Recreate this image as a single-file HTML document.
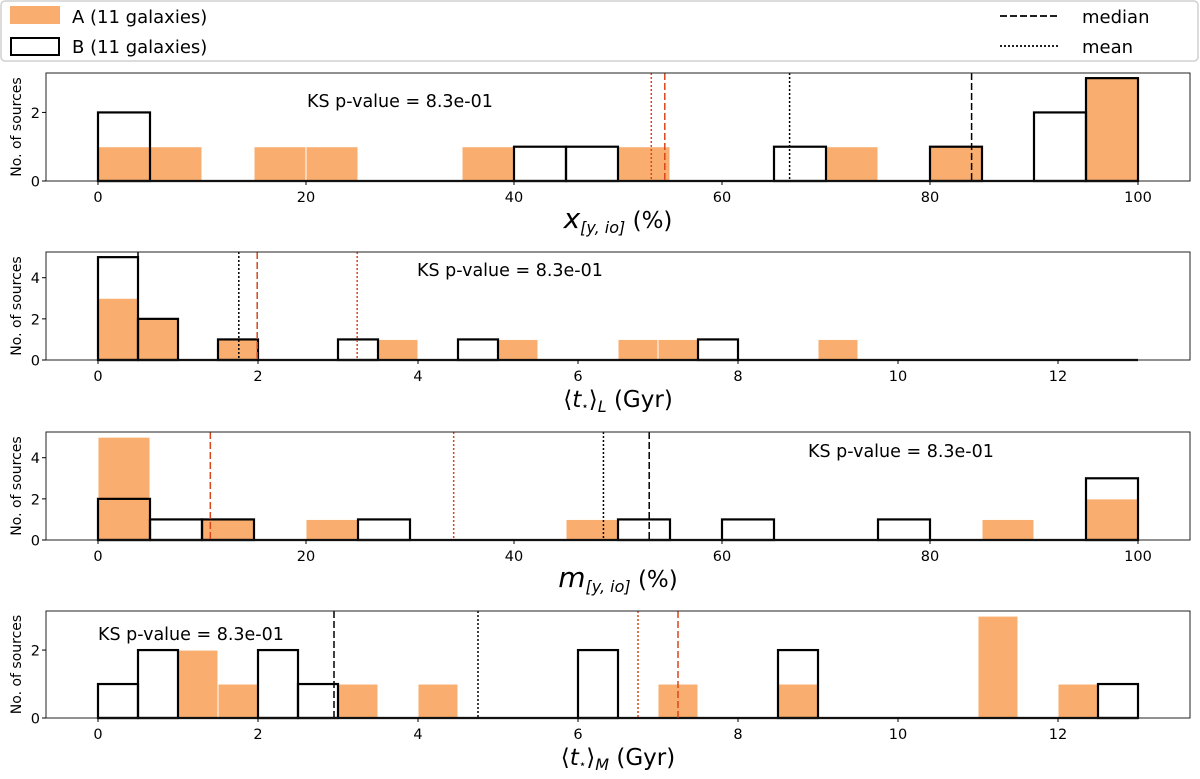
<!DOCTYPE html>
<html><head><meta charset="utf-8">
<style>
body{margin:0;background:#fff;width:1200px;height:774px;overflow:hidden;font-family:"Liberation Sans","DejaVu Sans",sans-serif;}
svg text{font-family:"DejaVu Sans","Liberation Sans",sans-serif;}
</style></head>
<body>
<svg id="fig" width="1200" height="774" viewBox="0 0 1200 774" xmlns="http://www.w3.org/2000/svg">
<g>
<rect x="1" y="1" width="1197" height="60" rx="4" fill="#fff" stroke="#d0d0d0" stroke-width="1.5"/>
<rect x="10" y="6" width="50" height="18" fill="#f9ae6f"/>
<text x="72" y="23" font-size="18">A (11 galaxies)</text>
<rect x="11" y="38" width="48" height="17" fill="none" stroke="#000" stroke-width="2"/>
<text x="72" y="53" font-size="18">B (11 galaxies)</text>
<line x1="1000" y1="16" x2="1058" y2="16" stroke="#000" stroke-width="1.8" stroke-dasharray="7,3"/>
<text x="1082" y="23" font-size="18">median</text>
<line x1="1000" y1="46" x2="1058" y2="46" stroke="#000" stroke-width="1.8" stroke-dasharray="2,2"/>
<text x="1082" y="53" font-size="18">mean</text>
</g>
</svg>
<script>
// Panel 1: x_[y,io] (%)
const p1BinW = 5;
const p1A = [1,1,0,1,1,0,0,1,0,0,1,0,0,0,1,0,1,0,0,3];
const p1B = [2,0,0,0,0,0,0,0,1,1,0,0,0,1,0,0,1,0,2,3];
const p1Lines = [53.2, 54.5, 66.5, 84.0];
const p1Ticks = [0,20,40,60,80,100];
const p1YTicks = [0,2];
// Panel 2: <t*>_L (Gyr)
const p2BinW = 0.5;
const p2A = [3,2,0,1,0,0,0,1,0,0,1,0,0,1,1,0,0,0,1,0,0,0,0,0,0,0];
const p2B = [5,2,0,1,0,0,1,0,0,1,0,0,0,0,0,1,0,0,0,0,0,0,0,0,0,0];
const p2Lines = [0.5, 1.76, 1.99, 3.24];
const p2Ticks = [0,2,4,6,8,10,12];
const p2YTicks = [0,2,4];
// Panel 3: m_[y,io] (%)
const p3A = [5,0,1,0,1,0,0,0,0,1,0,0,0,0,0,0,0,1,0,2];
const p3B = [2,1,1,0,0,1,0,0,0,0,1,0,1,0,0,1,0,0,0,3];
const p3Lines = [10.8, 34.2, 48.6, 53.0];
const p3YTicks = [0,2,4];
// Panel 4: <t*>_M (Gyr)
const p4A = [0,0,2,1,0,0,1,0,1,0,0,0,0,0,1,0,0,1,0,0,0,0,3,0,1,0];
const p4B = [1,2,0,0,2,1,0,0,0,0,0,0,2,0,0,0,0,2,0,0,0,0,0,0,0,1];
const p4Lines = [2.95, 4.75, 6.75, 7.25];
const p4YTicks = [0,2];
const lineStyles = [['#000','7,3'],['#000','2,2'],['#d8461b','7,3'],['#d8461b','2,2']];

const NS='http://www.w3.org/2000/svg';
const svg=document.getElementById('fig');
function mk(tag,attrs,parent){const e=document.createElementNS(NS,tag);for(const k in attrs)e.setAttribute(k,attrs[k]);(parent||svg).appendChild(e);return e;}

function panel(cfg){
  const L=46,R=1190;
  const g=mk('g',{});
  
  
  const sx=v=>L+(v-cfg.xmin)/(cfg.xmax-cfg.xmin)*(R-L);
  const sy=v=>cfg.bottom-(v/cfg.ymax)*(cfg.bottom-cfg.top);
  cfg.A.forEach((c,i)=>{ if(!c) return;
    const r=mk('rect',{x:sx(i*cfg.bw),y:sy(c),width:sx((i+1)*cfg.bw)-sx(i*cfg.bw),height:sy(0)-sy(c),fill:'#f9ae6f',stroke:'#fff','stroke-width':1},g);
    
    
  });
  const base=mk('line',{x1:sx(0),x2:sx(cfg.B.length*cfg.bw),y1:sy(0),y2:sy(0),stroke:'#000','stroke-width':2.2},g);
  
  
  cfg.B.forEach((c,i)=>{ if(!c) return;
    const r=mk('rect',{x:sx(i*cfg.bw),y:sy(c),width:sx((i+1)*cfg.bw)-sx(i*cfg.bw),height:sy(0)-sy(c),fill:'none',stroke:'#000','stroke-width':2.2},g);
    
    
  });
  cfg.lines.forEach((v,i)=>{
    const st=cfg.lineOrder[i];
    const l=mk('line',{x1:sx(v),x2:sx(v),y1:cfg.top,y2:cfg.bottom,stroke:lineStyles[st][0],'stroke-width':1.5,'stroke-dasharray':lineStyles[st][1]},g);
    
    
  });
  const f=mk('rect',{x:L,y:cfg.top,width:R-L,height:cfg.bottom-cfg.top,fill:'none',stroke:'#222','stroke-width':1},g);
  
  
  cfg.xt.forEach(t=>{
    mk('line',{x1:sx(t),x2:sx(t),y1:cfg.bottom,y2:cfg.bottom+4,stroke:'#000'},g);
    const tx=mk('text',{x:sx(t),y:cfg.bottom+21,'font-size':14.5,'text-anchor':'middle'},g);
    tx.textContent=t;
    
    
  });
  cfg.yt.forEach(t=>{
    mk('line',{x1:L-4,x2:L,y1:sy(t),y2:sy(t),stroke:'#000'},g);
    const tx=mk('text',{x:L-6,y:sy(t)+5.5,'font-size':14.5,'text-anchor':'end'},g);
    tx.textContent=t;
    
    
  });
  const yl=mk('text',{x:0,y:0,'font-size':14,'text-anchor':'middle',transform:'translate(21,'+((cfg.top+cfg.bottom)/2)+') rotate(-90)'},g);
  yl.textContent='No. of sources';
  
  
  const ks=mk('text',{x:cfg.ksx,y:cfg.ksy,'font-size':17.5},g);
  ks.textContent='KS p-value = 8.3e-01';
  
  
  const xl=mk('text',{x:618,y:cfg.bottom+47,'font-size':23,'text-anchor':'middle'},g);
  xl.innerHTML=cfg.xlabel;
  
  
}
const pctLabel=(v)=>'<tspan font-style="italic" font-size="28">'+v+'</tspan><tspan font-size="16" font-style="italic" dy="5">[y, io]</tspan><tspan dy="-5"> (%)</tspan>';
const tLabel=(s)=>'⟨<tspan font-style="italic">t</tspan><tspan font-size="12" dy="3">⋆</tspan><tspan dy="-3">⟩</tspan><tspan font-size="16" font-style="italic" dy="5">'+s+'</tspan><tspan dy="-5"> (Gyr)</tspan>';
panel({name:'panel-x-yio',xmin:-5,xmax:105,bw:5,A:p1A,B:p1B,lines:p1Lines,lineOrder:[3,2,1,0],xt:p1Ticks,yt:p1YTicks,top:73,bottom:181,ymax:3.15,ksx:307,ksy:107,xlabel:pctLabel('x')});
panel({name:'panel-t-L',xmin:-0.65,xmax:13.65,bw:0.5,A:p2A,B:p2B,lines:p2Lines,lineOrder:[0,1,2,3],xt:p2Ticks,yt:p2YTicks,top:252,bottom:360,ymax:5.25,ksx:417,ksy:276,xlabel:tLabel('L')});
panel({name:'panel-m-yio',xmin:-5,xmax:105,bw:5,A:p3A,B:p3B,lines:p3Lines,lineOrder:[2,3,1,0],xt:p1Ticks,yt:p3YTicks,top:432,bottom:540,ymax:5.25,ksx:808,ksy:457,xlabel:pctLabel('m')});
panel({name:'panel-t-M',xmin:-0.65,xmax:13.65,bw:0.5,A:p4A,B:p4B,lines:p4Lines,lineOrder:[0,1,3,2],xt:p2Ticks,yt:p4YTicks,top:611,bottom:718,ymax:3.15,ksx:98,ksy:640,xlabel:tLabel('M')});
</script>
</body></html>
